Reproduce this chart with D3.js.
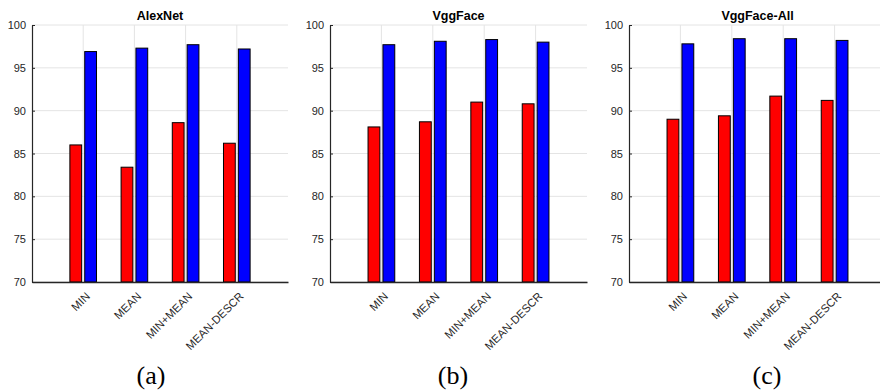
<!DOCTYPE html>
<html>
<head>
<meta charset="utf-8">
<script src="https://cdn.jsdelivr.net/npm/d3@7"></script>
<style>
  body { margin: 0; background: #fff; }
  svg { display: block; }
</style>
</head>
<body>
<figure id="bars" style="margin:0"></figure>
<script>
// data
const categories = ["MIN", "MEAN", "MIN+MEAN", "MEAN-DESCR"];
const titles = ["AlexNet", "VggFace", "VggFace-All"];
const captions = ["(a)", "(b)", "(c)"];
const yTicks = [70, 75, 80, 85, 90, 95, 100];

const alexRed = [86.0, 83.4, 88.6, 86.2];
const alexBlue = [96.9, 97.3, 97.7, 97.2];
const vggRed = [88.1, 88.7, 91.0, 90.8];
const vggBlue = [97.7, 98.1, 98.3, 98.0];
const vggAllRed = [89.0, 89.4, 91.7, 91.2];
const vggAllBlue = [97.8, 98.4, 98.4, 98.2];

const redSeries = [alexRed, vggRed, vggAllRed];
const blueSeries = [alexBlue, vggBlue, vggAllBlue];

// layout
const width = 880, height = 390;
const plotTop = 25, plotBottom = 282;
const panels = [
  { left: 32, right: 288, caption: 151 },
  { left: 330, right: 587, caption: 453 },
  { left: 629, right: 886, caption: 767 }
];
const font = "'Liberation Sans', Arial, Helvetica, sans-serif";
const textColor = "#262626";
const gridColor = "#e4e4e4";
const offset = 0.145, half = 0.115;

const svg = d3.select("figure#bars")
  .append("svg")
  .attr("width", width)
  .attr("height", height);

panels.forEach((p, k) => {
  const g = svg.append("g");

  const x = d3.scaleLinear()
    .domain([0, categories.length + 1])
    .range([p.left, p.right]);

  const y = d3.scaleLinear()
    .domain([70, 100])
    .range([plotBottom, plotTop]);

  // grid
  g.selectAll(".hgrid")
    .data(yTicks)
    .enter()
    .append("line")
    .attr("x1", p.left)
    .attr("x2", p.right)
    .attr("y1", d => y(d))
    .attr("y2", d => y(d))
    .attr("stroke", gridColor)
    .attr("stroke-width", 1);

  g.selectAll(".vgrid")
    .data(categories)
    .enter()
    .append("line")
    .attr("x1", (d, i) => x(i + 1))
    .attr("x2", (d, i) => x(i + 1))
    .attr("y1", plotTop)
    .attr("y2", plotBottom)
    .attr("stroke", gridColor)
    .attr("stroke-width", 1);

  const bw = x(2 * half) - x(0);

  // red bars
  g.selectAll(".red")
    .data(redSeries[k])
    .enter()
    .append("rect")
    .attr("x", (d, i) => x(i + 1 - offset - half))
    .attr("y", d => y(d))
    .attr("width", bw)
    .attr("height", d => plotBottom - y(d))
    .attr("fill", "#ff0000")
    .attr("stroke", "#000")
    .attr("stroke-width", 1);

  // blue bars
  g.selectAll(".blue")
    .data(blueSeries[k])
    .enter()
    .append("rect")
    .attr("x", (d, i) => x(i + 1 + offset - half))
    .attr("y", d => y(d))
    .attr("width", bw)
    .attr("height", d => plotBottom - y(d))
    .attr("fill", "#0000ff")
    .attr("stroke", "#000")
    .attr("stroke-width", 1);

  // y axis
  const yAxis = g.append("g")
    .attr("transform", "translate(" + p.left + ",0)")
    .call(d3.axisLeft(y).tickValues(yTicks).tickSize(-3).tickSizeOuter(0).tickPadding(6));
  yAxis.select(".domain").attr("stroke", textColor).attr("stroke-width", 1.2);
  yAxis.selectAll(".tick line").attr("stroke", textColor);
  yAxis.selectAll("text")
    .attr("fill", textColor)
    .style("font-family", font)
    .style("font-size", "11px");

  // x axis
  const xAxis = g.append("g")
    .attr("transform", "translate(0," + plotBottom + ")")
    .call(d3.axisBottom(x)
      .tickValues(categories.map((c, i) => i + 1))
      .tickFormat(i => categories[i - 1])
      .tickSize(0)
      .tickSizeOuter(0));
  xAxis.select(".domain").attr("stroke", textColor).attr("stroke-width", 1.6);
  xAxis.selectAll("text")
    .attr("y", 0)
    .attr("dy", 0)
    .attr("transform", "translate(7,15)rotate(-45)")
    .attr("text-anchor", "end")
    .attr("fill", textColor)
    .style("font-family", font)
    .style("font-size", "11.3px");

  // title
  g.append("text")
    .attr("x", (p.left + p.right) / 2)
    .attr("y", 20)
    .attr("text-anchor", "middle")
    .attr("fill", "#000")
    .style("font-family", font)
    .style("font-size", "12.5px")
    .style("font-weight", "bold")
    .text(titles[k]);

  // sub caption
  svg.append("text")
    .attr("x", p.caption)
    .attr("y", 384)
    .attr("text-anchor", "middle")
    .attr("fill", "#000")
    .style("font-family", "'Liberation Serif', 'DejaVu Serif', serif")
    .style("font-size", "26px")
    .text(captions[k]);
});
</script>
</body>
</html>
